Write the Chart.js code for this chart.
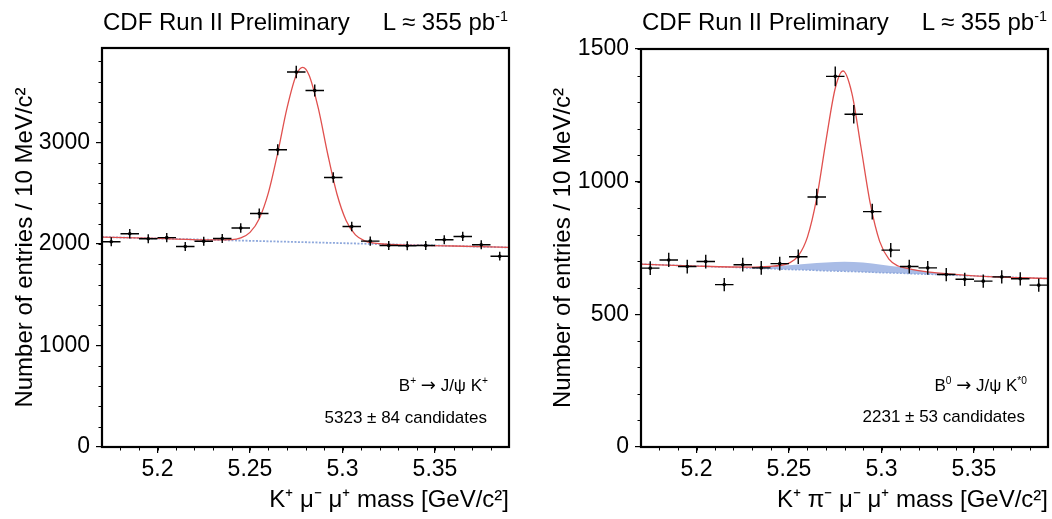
<!DOCTYPE html>
<html><head><meta charset="utf-8">
<script src="https://cdn.jsdelivr.net/npm/chart.js@4.4.1/dist/chart.umd.min.js"></script>
<style>
html,body{margin:0;padding:0;background:#fff;}
#wrap{position:relative;width:1052px;height:519px;overflow:hidden;font-family:'Liberation Sans',Arial,sans-serif;color:#000;}
canvas{position:absolute;top:0;}
#cL{left:0;} #cR{left:526px;}
.txt{position:absolute;white-space:nowrap;line-height:1;}
.hdr{font-size:24px;}
.ann{font-size:17px;}
.arr{font-family:'DejaVu Sans',sans-serif;font-size:18px;}
sup{font-size:60%;vertical-align:0;position:relative;top:-0.65em;}
</style></head>
<body><div id="wrap">
<canvas id="cL" width="526" height="519"></canvas>
<canvas id="cR" width="526" height="519"></canvas>
<div class="txt hdr" style="left:103px;top:10px">CDF Run II Preliminary</div>
<div class="txt hdr" style="right:544px;top:10px">L ≈ 355 pb<sup>-1</sup></div>
<div class="txt hdr" style="left:642px;top:10px">CDF Run II Preliminary</div>
<div class="txt hdr" style="right:5px;top:10px">L ≈ 355 pb<sup>-1</sup></div>
<div class="txt ann" style="right:564px;top:376px">B<sup>+</sup> <span class="arr">→</span> J/ψ K<sup>+</sup></div>
<div class="txt ann" style="right:565px;top:409px">5323 ± 84 candidates</div>
<div class="txt ann" style="right:25px;top:376px">B<sup>0</sup> <span class="arr">→</span> J/ψ K<sup>*0</sup></div>
<div class="txt ann" style="right:27px;top:408px">2231 ± 53 candidates</div>
</div>
<script>
// ---- data ----
const massBins = [5.175,5.185,5.195,5.205,5.215,5.225,5.235,5.245,5.255,5.265,5.275,5.285,5.295,5.305,5.315,5.325,5.335,5.345,5.355,5.365,5.375,5.385];
const entriesBplus = [2022,2100,2051,2062,1975,2027,2054,2157,2300,2928,3693,3512,2655,2172,2028,1985,1982,1985,2041,2074,1992,1879];
const errorsBplus  = [45,46,45,45,44,45,45,46,48,54,61,59,52,47,45,45,45,45,45,46,45,43];
const entriesB0 = [674,705,680,699,612,687,675,691,717,942,1397,1254,887,742,680,675,650,632,625,641,634,610];
const errorsB0  = [26,27,26,26,25,26,26,26,27,31,37,35,30,27,26,26,25,25,25,25,25,25];

const fitMassBplus = [5.17,5.20,5.23,5.24,5.245,5.25,5.255,5.26,5.265,5.27,5.275,5.2785,5.282,5.287,5.292,5.297,5.302,5.307,5.312,5.317,5.325,5.36,5.39];
const fitBplus     = [2068,2054,2040,2042,2060,2114,2249,2508,2898,3337,3663,3739,3660,3330,2886,2492,2229,2089,2030,2008,1996,1980,1966];
const bkgMassBplus = [5.17,5.39];
const bkgBplus     = [2068,1966];

const fitMassB0 = [5.17,5.20,5.23,5.24,5.245,5.25,5.255,5.26,5.265,5.27,5.275,5.2792,5.284,5.289,5.294,5.299,5.304,5.309,5.314,5.32,5.33,5.35,5.39];
const fitB0     = [689,682,678,681,684,693,720,792,939,1155,1352,1417,1333,1126,915,775,708,682,673,665,656,645,635];
const bkgMassB0 = [5.17,5.18,5.19,5.20,5.21,5.22,5.23,5.24,5.25,5.26,5.27,5.28,5.29,5.30,5.31,5.32,5.33,5.34,5.35,5.36,5.37,5.38,5.39];
const bkgB0     = [689,687,684,682,679,677,674,672,669,667,664,662,660,657,655,652,650,647,645,642,640,637,635];
const peakingB0 = [689,687,684,682,679,678,678,681,685,691,695,698,695,687,678,666,656,649,645,642,640,637,635];

const xTickValues = [5.2,5.25,5.3,5.35];
const xTickLabels = ['5.2','5.25','5.3','5.35'];
const yTicksBplus = [0,1000,2000,3000];
const yTicksB0 = [0,500,1000,1500];

// ---- drawing ----
Chart.defaults.font.family = "'Liberation Sans', Arial, sans-serif";
Chart.defaults.color = '#000';
const pts = (xs, ys) => xs.map((x,i)=>({x:x, y:ys[i]}));
const RED = '#e0504e', BLUE_LINE = '#8ea8dc', BLUE_FILL = '#a9bce6';

function decor(xs, ys, errs, yMinor){
  return {id:'decor', afterDatasetsDraw(chart){
    const {ctx, chartArea:a, scales:{x, y}} = chart;
    ctx.save();
    ctx.strokeStyle = '#000'; ctx.lineWidth = 1.4;
    ctx.beginPath();
    xs.forEach((m,i)=>{
      const px = x.getPixelForValue(m), py = y.getPixelForValue(ys[i]);
      ctx.moveTo(x.getPixelForValue(m-0.005), py); ctx.lineTo(x.getPixelForValue(m+0.005), py);
      ctx.moveTo(px, y.getPixelForValue(ys[i]-errs[i])); ctx.lineTo(px, y.getPixelForValue(ys[i]+errs[i]));
    });
    ctx.stroke();
    ctx.lineWidth = 1;
    ctx.beginPath();
    for (let k=1;;k++){ const v = x.min + k*0.01; if (v > x.max - 1e-6) break;
      const px = Math.round(x.getPixelForValue(v))+0.5; ctx.moveTo(px, a.bottom); ctx.lineTo(px, a.bottom+3.5); }
    for (let k=1;;k++){ const v = k*yMinor; if (v > y.max + 1e-6) break;
      const py = Math.round(y.getPixelForValue(v))+0.5; ctx.moveTo(a.left, py); ctx.lineTo(a.left-3.5, py); }
    ctx.stroke();
    ctx.lineWidth = 2.2;
    ctx.strokeRect(a.left, a.top, a.right-a.left, a.bottom-a.top);
    ctx.restore();
  }};
}

function panel(id, cfg){
  return new Chart(document.getElementById(id), {
    type:'line',
    data:{datasets: cfg.datasets},
    options:{
      responsive:false, animation:false, devicePixelRatio:1,
      layout:{padding:cfg.padding},
      plugins:{legend:{display:false}, tooltip:{enabled:false}},
      elements:{line:{cubicInterpolationMode:'monotone'}},
      scales:{
        x:{type:'linear', min:5.17, max:5.39,
          afterBuildTicks:s=>{ s.ticks = xTickValues.map(v=>({value:v})); },
          afterFit:s=>{ s.height = 72; },
          ticks:{font:{size:23}, padding:3, maxRotation:0, autoSkip:false,
            callback:(v,i)=>xTickLabels[i]},
          grid:{display:true, drawOnChartArea:false, drawTicks:true, tickLength:6, color:'#000', lineWidth:1.2},
          border:{display:false},
          title:{display:true, text:cfg.xTitle, align:'end', font:{size:24}, padding:{top:0,bottom:4.5}}
        },
        y:{type:'linear', min:0, max:cfg.ymax,
          afterBuildTicks:s=>{ s.ticks = cfg.yTicks.map(v=>({value:v})); },
          afterFit:s=>{ s.width = cfg.yWidth; },
          ticks:{font:{size:23}, padding:6, callback:v=>String(v)},
          grid:{display:true, drawOnChartArea:false, drawTicks:true, tickLength:6, color:'#000', lineWidth:1.2},
          border:{display:false},
          title:{display:true, text:'Number of entries / 10 MeV/c²', font:{size:24}, padding:{top:cfg.yTitlePad,bottom:0}}
        }
      }
    },
    plugins:[decor(massBins, cfg.entries, cfg.errors, cfg.yMinor)]
  });
}

panel('cL', {
  padding:{left:0, top:48, right:17, bottom:0}, yWidth:102, yTitlePad:10.5,
  ymax:3930, yTicks:yTicksBplus, yMinor:200,
  xTitle:'K⁺ μ⁻ μ⁺ mass [GeV/c²]',
  entries:entriesBplus, errors:errorsBplus,
  datasets:[
    {data:pts(massBins, entriesBplus), showLine:false, pointRadius:1.8, pointBackgroundColor:'#000', pointBorderWidth:0},
    {data:pts(fitMassBplus, fitBplus), borderColor:RED, borderWidth:1.3, pointRadius:0, fill:false},
    {data:pts(bkgMassBplus, bkgBplus), borderColor:BLUE_LINE, borderWidth:1.8, borderDash:[2,1.5], pointRadius:0, fill:false}
  ]
});

panel('cR', {
  padding:{left:0, top:49, right:2, bottom:0}, yWidth:115, yTitlePad:22.5,
  ymax:1500, yTicks:yTicksB0, yMinor:100,
  xTitle:'K⁺ π⁻ μ⁻ μ⁺ mass [GeV/c²]',
  entries:entriesB0, errors:errorsB0,
  datasets:[
    {data:pts(massBins, entriesB0), showLine:false, pointRadius:1.8, pointBackgroundColor:'#000', pointBorderWidth:0},
    {data:pts(fitMassB0, fitB0), borderColor:RED, borderWidth:1.3, pointRadius:0, fill:false},
    {data:pts(bkgMassB0, bkgB0), borderColor:BLUE_LINE, borderWidth:1.5, borderDash:[2,1.5], pointRadius:0, fill:false},
    {data:pts(bkgMassB0, peakingB0), borderWidth:0, borderColor:BLUE_FILL, pointRadius:0, fill:'-1', backgroundColor:BLUE_FILL}
  ]
});
</script>
</body></html>
